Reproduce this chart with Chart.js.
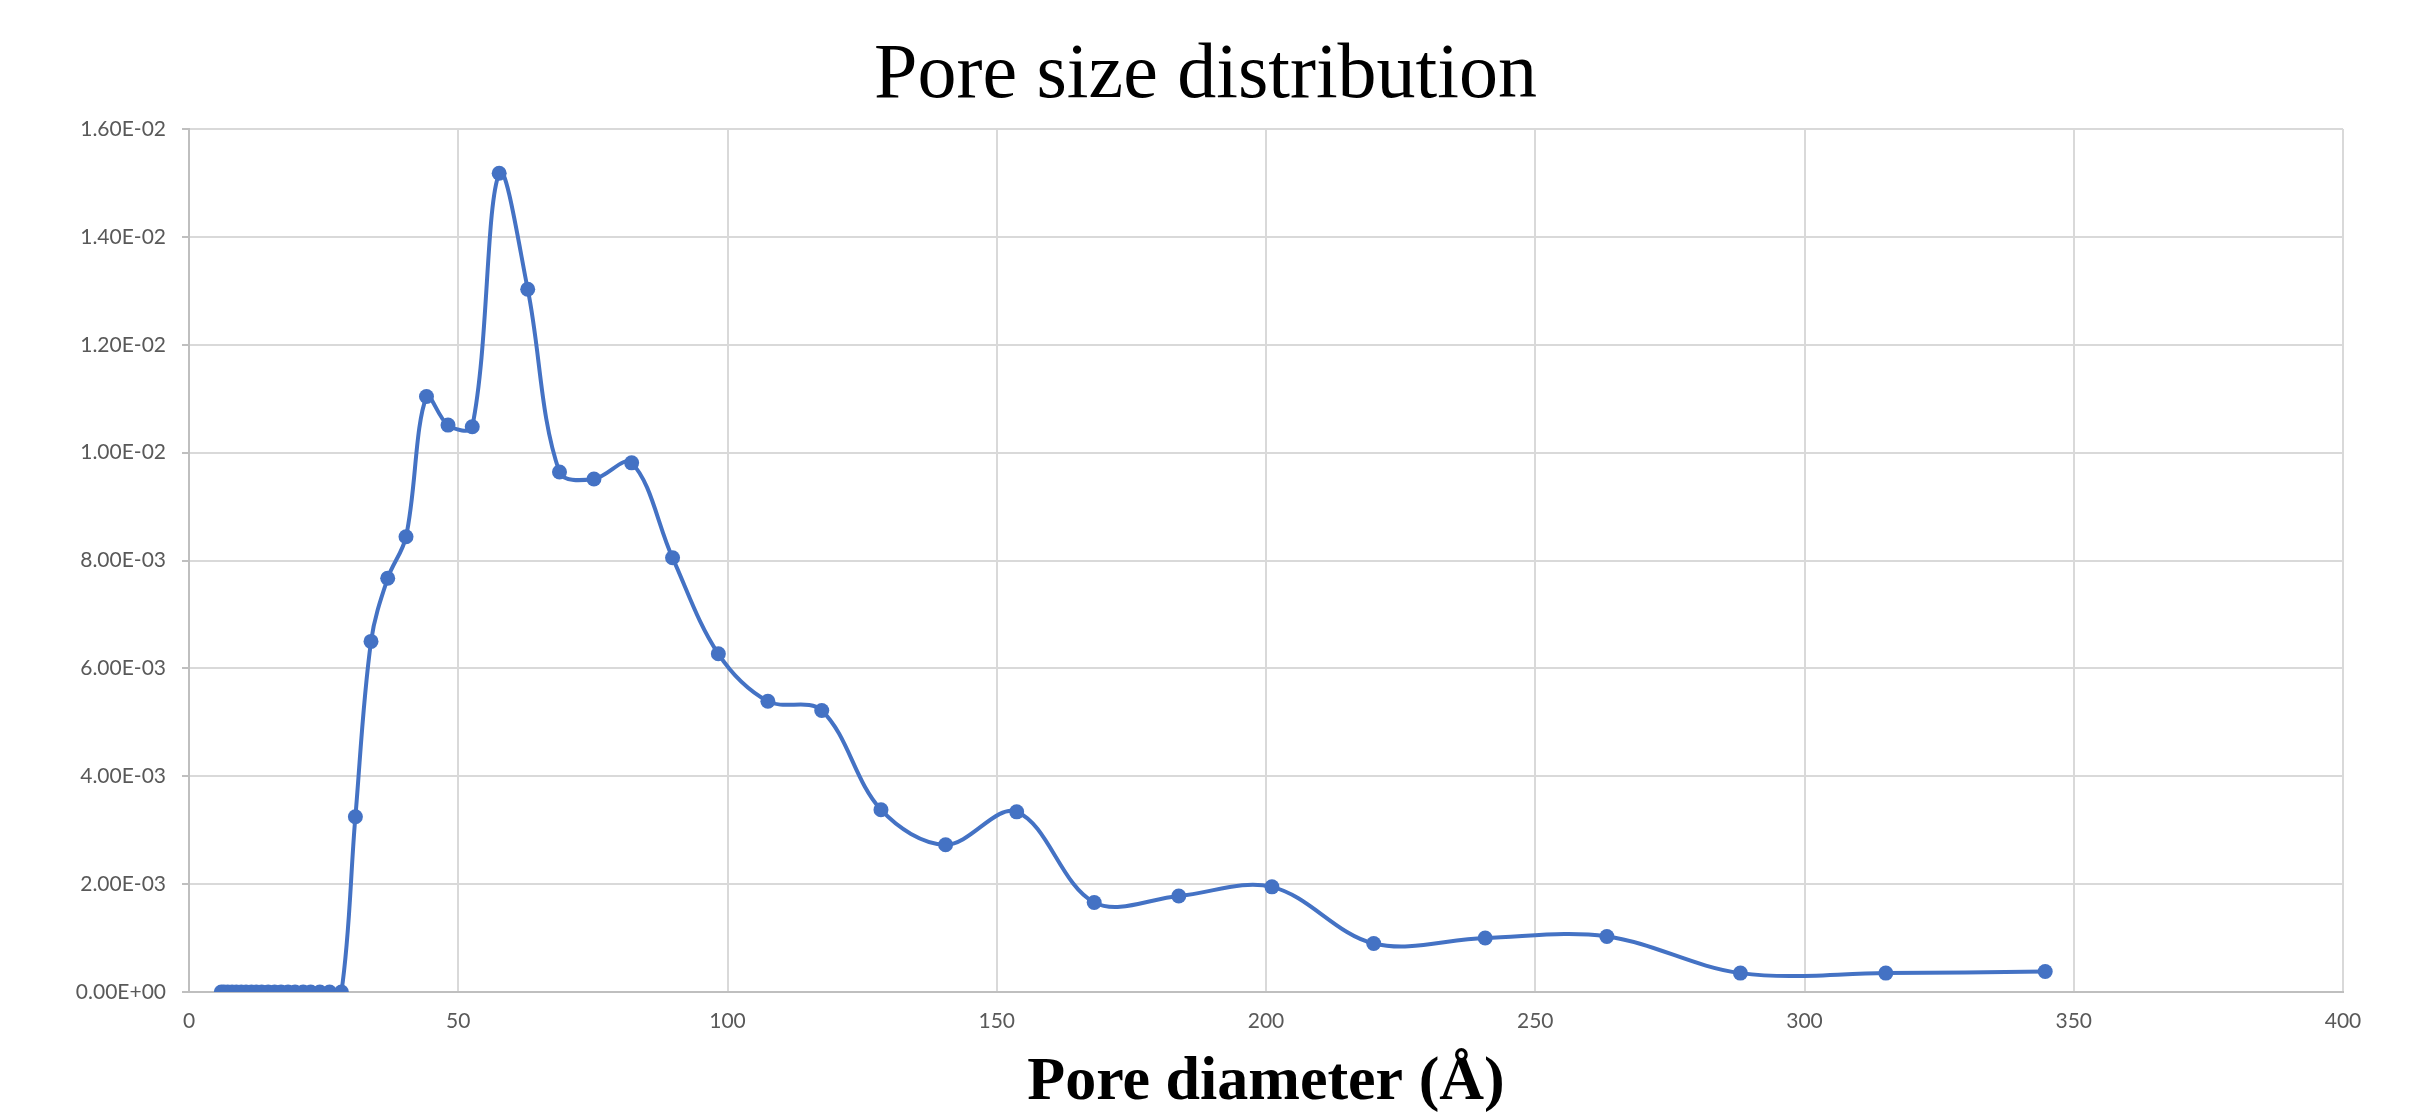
<!DOCTYPE html>
<html>
<head>
<meta charset="utf-8">
<script src="https://cdn.jsdelivr.net/npm/chart.js@4.4.0/dist/chart.umd.min.js"></script>
<style>
  body { margin: 0; background: #fff; }
  #wrap { width: 2411px; height: 1115px; }
</style>
</head>
<body>
<div id="wrap"><canvas id="psd" width="2411" height="1115"></canvas></div>
<script>
// Pore diameter (Å) and distribution values
const poreDiameter = [
  6.0, 6.5, 7.2, 8.0, 8.8, 9.7, 10.6, 11.6, 12.5, 13.5,
  14.7, 15.9, 17.1, 18.4, 19.7, 21.2, 22.6, 24.3, 26.1, 28.3,
  30.9, 33.8, 36.9, 40.3, 44.1, 48.1, 52.6, 57.6, 62.9, 68.8,
  75.2, 82.2, 89.8, 98.3, 107.5, 117.5, 128.5, 140.5, 153.7, 168.1,
  183.8, 201.1, 220.0, 240.7, 263.3, 288.1, 315.1, 344.7
];
const poreVolume = [
  0, 0, 0, 0, 0, 0, 0, 0, 0, 0,
  0, 0, 0, 0, 0, 0, 0, 0, 0, 0,
  3.25e-3, 6.50e-3, 7.67e-3, 8.44e-3, 1.104e-2, 1.051e-2, 1.048e-2, 1.518e-2, 1.303e-2, 9.64e-3,
  9.51e-3, 9.81e-3, 8.05e-3, 6.27e-3, 5.39e-3, 5.22e-3, 3.38e-3, 2.73e-3, 3.34e-3, 1.66e-3,
  1.78e-3, 1.95e-3, 9.0e-4, 1.0e-3, 1.03e-3, 3.5e-4, 3.5e-4, 3.8e-4
];
const xTicks = [0, 50, 100, 150, 200, 250, 300, 350, 400];

const blue = '#4472C4';
const tickColor = '#595959';

// excel style 1.60E-02
const sciLabel = (v) => {
  if (v === 0) return '0.00E+00';
  const [m, e] = v.toExponential(2).toUpperCase().split('E');
  const n = parseInt(e, 10);
  const sign = n < 0 ? '-' : '+';
  return m + 'E' + sign + String(Math.abs(n)).padStart(2, '0');
};

const points = poreDiameter.map((d, i) => ({ x: d, y: poreVolume[i] }));

new Chart(document.getElementById('psd').getContext('2d'), {
  type: 'line',
  data: {
    datasets: [{
      data: points,
      borderColor: blue,
      backgroundColor: blue,
      borderWidth: 4,
      pointRadius: 7.5,
      pointBorderWidth: 0,
      tension: 0.35,
      fill: false,
    }],
  },
  options: {
    responsive: false,
    animation: false,
    // same padding both sides so the title sits in the middle of the page
    layout: { padding: { left: 68, right: 68, top: 0, bottom: 0 } },
    plugins: {
      legend: { display: false },
      tooltip: { enabled: false },
      title: {
        display: true,
        text: 'Pore size distribution',
        color: '#000',
        font: { family: '"Liberation Serif", "Times New Roman", serif', size: 78, weight: 'normal', lineHeight: 1 },
        padding: { top: 38, bottom: 13 },
      },
    },
    scales: {
      x: {
        type: 'linear',
        min: 0,
        max: 400,
        afterBuildTicks: (scale) => { scale.ticks = xTicks.map(v => ({ value: v })); },
        afterFit: (scale) => { scale.height = 123; },
        grid: { color: '#d9d9d9', lineWidth: 2, drawTicks: false },
        border: { color: '#bfbfbf', width: 2 },
        ticks: {
          color: tickColor,
          padding: 17,
          font: { family: 'Lato, "Open Sans", sans-serif', size: 21 },
        },
        title: {
          display: true,
          text: 'Pore diameter (Å)',
          color: '#000',
          font: { family: '"Liberation Serif", "Times New Roman", serif', size: 62, weight: 'bold', lineHeight: 1 },
          padding: { top: 0, bottom: 1 },
        },
      },
      y: {
        min: 0,
        max: 0.016,
        afterFit: (scale) => { scale.width = 121; },
        grid: { color: '#d9d9d9', lineWidth: 2, tickLength: 7, tickColor: '#bfbfbf' },
        border: { color: '#bfbfbf', width: 2 },
        ticks: {
          stepSize: 0.002,
          color: tickColor,
          padding: 16,
          font: { family: 'Lato, "Open Sans", sans-serif', size: 21 },
          callback: (v) => sciLabel(v),
        },
      },
    },
  },
});
</script>
</body>
</html>
